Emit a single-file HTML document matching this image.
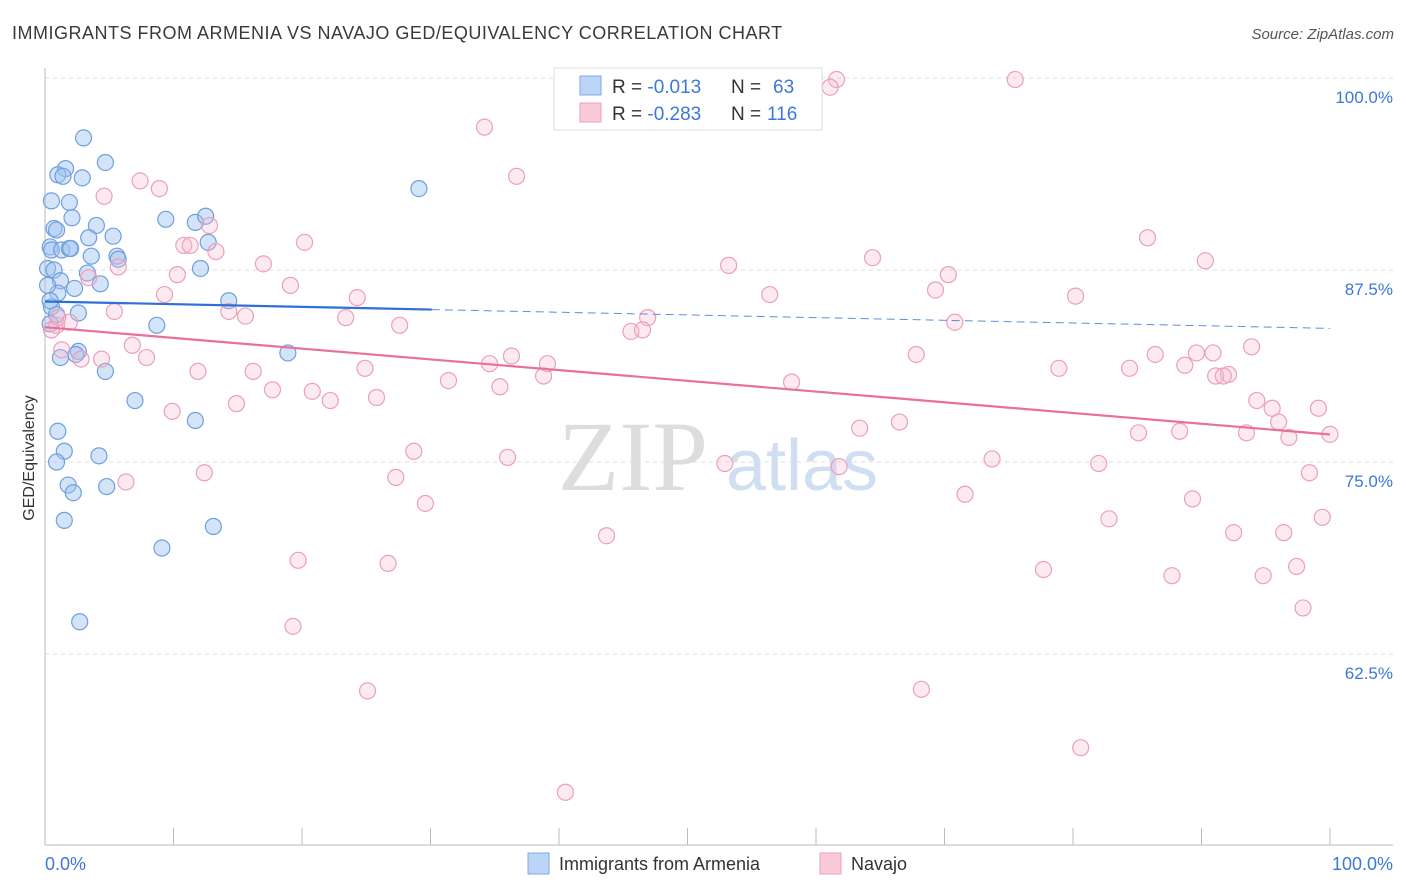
<!DOCTYPE html>
<html><head><meta charset="utf-8">
<style>
body{margin:0;background:#fff;font-family:"Liberation Sans",sans-serif;}
svg{display:block}
</style></head>
<body>
<svg id="chart" width="1406" height="892">
<text x="12" y="39" font-size="18" letter-spacing="0.5" fill="#3a3a3a">IMMIGRANTS FROM ARMENIA VS NAVAJO GED/EQUIVALENCY CORRELATION CHART</text>
<text x="1394" y="39" font-size="15" fill="#555" font-style="italic" text-anchor="end">Source: ZipAtlas.com</text>
<g id="grid"></g>
<g id="wm">
<text x="633" y="490" font-size="100" fill="#ddd" font-family="Liberation Serif,serif" text-anchor="middle">ZIP</text>
<text x="802" y="490" font-size="72" fill="#d0def2" text-anchor="middle">atlas</text>
</g>
<g id="axes"></g>
<g id="pts"></g>
<g id="trend"></g>
<text transform="translate(34,458) rotate(-90)" font-size="16" fill="#333" text-anchor="middle">GED/Equivalency</text>
<text x="45" y="870" font-size="18" fill="#3b78d8">0.0%</text>
<text x="1393" y="870" font-size="18" fill="#3b78d8" text-anchor="end">100.0%</text>
<g>
<rect x="554" y="68" width="268" height="62" fill="#fff" stroke="#ddd"/>
<rect x="580" y="76" width="21" height="19" fill="#bcd4f5" stroke="#7ea9e6"/>
<rect x="580" y="103" width="21" height="19" fill="#fbcad8" stroke="#eea0b8"/>
<text x="612" y="93" font-size="19" fill="#333">R = <tspan fill="#3b78d8">-0.013</tspan></text>
<text x="731" y="93" font-size="19" fill="#333">N =</text>
<text x="773" y="93" font-size="19" fill="#3b78d8">63</text>
<text x="612" y="120" font-size="19" fill="#333">R = <tspan fill="#3b78d8">-0.283</tspan></text>
<text x="731" y="120" font-size="19" fill="#333">N =</text>
<text x="767" y="120" font-size="19" fill="#3b78d8">116</text>
</g>
<g>
<rect x="528" y="853" width="21" height="21" fill="#bcd4f5" stroke="#7ea9e6"/>
<text x="559" y="870" font-size="18" fill="#333">Immigrants from Armenia</text>
<rect x="820" y="853" width="21" height="21" fill="#fbcad8" stroke="#eea0b8"/>
<text x="851" y="870" font-size="18" fill="#333">Navajo</text>
</g>
</svg>
<script>
const yTicks=[100,87.5,75,62.5];
const yTickLabels=["100.0%","87.5%","75.0%","62.5%"];
const blueX=[3.0,4.7,1.6,1.0,1.4,2.9,0.5,1.9,2.1,4.0,0.7,0.9,3.4,5.3,9.4,11.7,12.5,12.7,0.4,0.5,1.3,1.9,2.0,3.6,5.6,5.7,0.2,0.7,12.1,3.3,1.2,4.3,2.3,1.0,14.3,0.5,2.6,0.9,0.4,8.7,2.6,2.4,1.2,18.9,4.7,7.0,11.7,1.0,1.5,4.2,0.9,1.8,2.2,4.8,1.5,13.1,9.1,2.7,29.1,0.2,0.4];
const blueY=[96.1,94.5,94.1,93.7,93.6,93.5,92.0,91.9,90.9,90.4,90.2,90.1,89.6,89.7,90.8,90.6,91.0,89.3,89.0,88.8,88.8,88.9,88.9,88.4,88.4,88.2,87.6,87.5,87.6,87.3,86.8,86.6,86.3,86.0,85.5,85.1,84.7,84.6,84.0,83.9,82.2,82.0,81.8,82.1,80.9,79.0,77.7,77.0,75.7,75.4,75.0,73.5,73.0,73.4,71.2,70.8,69.4,64.6,92.8,86.5,85.5];
const pinkX=[61.6,61.1,75.5,52.5,34.2,36.7,7.4,8.9,4.6,12.8,10.8,11.3,20.2,13.3,85.8,64.4,90.3,53.2,17.0,5.7,10.3,70.3,3.4,19.1,69.3,56.4,80.2,9.3,24.3,14.3,15.6,5.4,23.4,46.9,70.8,27.6,45.6,46.5,0.9,1.9,1.0,0.5,6.8,1.3,4.4,2.8,7.9,36.3,34.6,39.1,24.9,67.8,78.9,84.4,86.4,88.7,89.6,90.9,93.9,92.1,91.1,91.7,11.9,16.2,31.4,58.1,35.4,38.8,17.7,20.8,22.2,25.8,14.9,9.9,94.3,95.5,99.1,96.0,96.8,100.0,66.5,63.4,85.1,88.3,93.5,28.7,36.0,52.9,73.7,82.0,61.8,12.4,27.3,6.3,98.4,29.6,71.6,89.3,82.8,99.4,43.7,92.5,96.4,19.7,26.7,77.7,87.7,94.8,97.4,97.9,19.3,25.1,68.2,80.6,40.5];
const pinkY=[99.9,99.4,99.9,99.9,96.8,93.6,93.3,92.8,92.3,90.4,89.1,89.1,89.3,88.7,89.6,88.3,88.1,87.8,87.9,87.7,87.2,87.2,87.0,86.5,86.2,85.9,85.8,85.9,85.7,84.8,84.5,84.8,84.4,84.4,84.1,83.9,83.5,83.6,83.9,84.1,84.4,83.6,82.6,82.3,81.7,81.7,81.8,81.9,81.4,81.4,81.1,82.0,81.1,81.1,82.0,81.3,82.1,82.1,82.5,80.7,80.6,80.6,80.9,80.9,80.3,80.2,79.9,80.6,79.7,79.6,79.0,79.2,78.8,78.3,79.0,78.5,78.5,77.6,76.6,76.8,77.6,77.2,76.9,77.0,76.9,75.7,75.3,74.9,75.2,74.9,74.7,74.3,74.0,73.7,74.3,72.3,72.9,72.6,71.3,71.4,70.2,70.4,70.4,68.6,68.4,68.0,67.6,67.6,68.2,65.5,64.3,60.1,60.2,56.4,53.5];
const blueTrend=[85.45,83.7];

const NS="http://www.w3.org/2000/svg";
const X0=45,X1=1330,YTOP=78,PXPER=15.36;
const sx=v=>X0+(X1-X0)*v/100;
const sy=v=>YTOP+(100-v)*PXPER;
function mk(t,a,p){const e=document.createElementNS(NS,t);for(const k in a)e.setAttribute(k,a[k]);p.appendChild(e);return e;}
const grid=document.getElementById('grid'),axes=document.getElementById('axes');
yTicks.forEach((t,i)=>{
  const l=mk('line',{x1:X0,x2:1393,y1:sy(t),y2:sy(t),stroke:'#ddd','stroke-dasharray':'4,4'},grid);
  
  
  const tx=mk('text',{x:1393,y:sy(t)+25,'font-size':17,fill:'#3b78d8','text-anchor':'end'},grid);
  tx.textContent=yTickLabels[i];
  
  
});
mk('line',{x1:X0,x2:X0,y1:68,y2:845,stroke:'#bbb'},axes);
mk('line',{x1:X0,x2:1393,y1:845,y2:845,stroke:'#bbb'},axes);
for(let i=0;i<=10;i++){const t=mk('line',{x1:sx(i*10),x2:sx(i*10),y1:828,y2:845,stroke:'#bbb'},axes);

}
const pts=document.getElementById('pts');
blueX.forEach((x,i)=>{const c=mk('circle',{cx:sx(x),cy:sy(blueY[i]),r:8,fill:'rgba(160,196,240,0.45)',stroke:'#6f9fdd','stroke-width':1.2},pts);

});
pinkX.forEach((x,i)=>{const c=mk('circle',{cx:sx(x),cy:sy(pinkY[i]),r:8,fill:'rgba(248,185,205,0.3)',stroke:'#eaa0bb','stroke-width':1.2},pts);

});
function reg(xs,ys){const n=xs.length;let mx=0,my=0;xs.forEach((x,i)=>{mx+=x;my+=ys[i]});mx/=n;my/=n;let sxy=0,sxx=0;xs.forEach((x,i)=>{sxy+=(x-mx)*(ys[i]-my);sxx+=(x-mx)**2});const b=sxy/sxx;return [my-b*mx,b];}
const tr=document.getElementById('trend');
const ba=blueTrend[0],bb=(blueTrend[1]-blueTrend[0])/100,bmax=Math.max(...blueX)+1;
let l=mk('line',{x1:sx(0),y1:sy(ba),x2:sx(bmax),y2:sy(ba+bb*bmax),stroke:'#2f6fd6','stroke-width':2.2},tr);


l=mk('line',{x1:sx(bmax),y1:sy(ba+bb*bmax),x2:sx(100),y2:sy(ba+bb*100),stroke:'#5a8fdf','stroke-width':1,'stroke-dasharray':'8,5'},tr);


const [pa,pb]=reg(pinkX,pinkY);
l=mk('line',{x1:sx(0),y1:sy(pa),x2:sx(100),y2:sy(pa+pb*100),stroke:'#e8709a','stroke-width':2.2},tr);


</script>
</body></html>
